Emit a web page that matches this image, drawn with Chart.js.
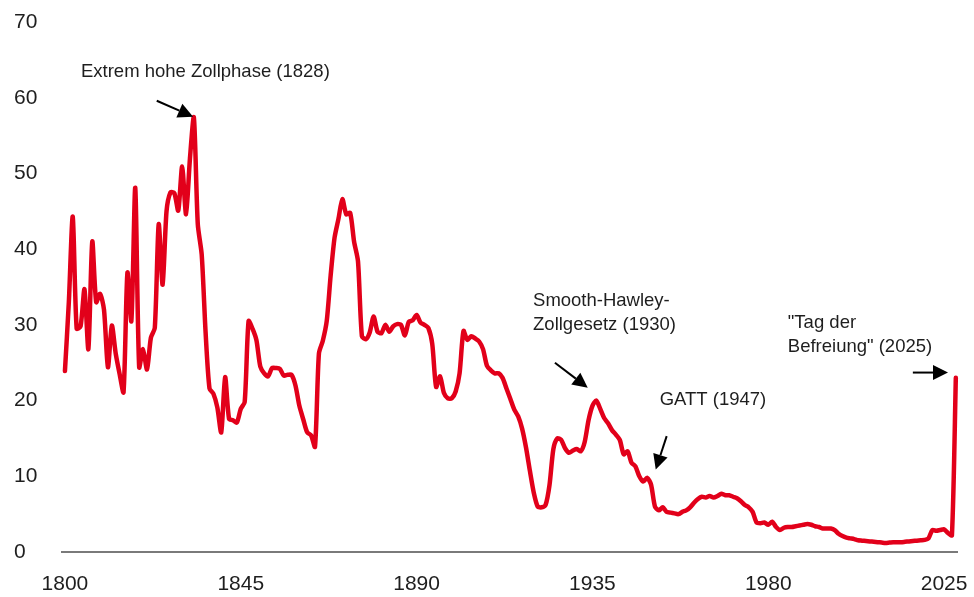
<!DOCTYPE html>
<html>
<head>
<meta charset="utf-8">
<script src="https://cdn.jsdelivr.net/npm/chart.js@4.4.1/dist/chart.umd.min.js"></script>
<style>
  html, body { margin: 0; padding: 0; background: #fff; }
  #wrap { width: 974px; height: 597px; }
</style>
</head>
<body>
<div id="wrap"><canvas id="chart"></canvas></div>
<script>
// Durchschnittlicher US-Zollsatz, Jahreswerte
const years = [
  1800, 1801, 1802, 1803, 1804, 1805, 1806, 1807, 1808, 1809,
  1810, 1811, 1812, 1813, 1814, 1815, 1816, 1817, 1818, 1819,
  1820, 1821, 1822, 1823, 1824, 1825, 1826, 1827, 1828, 1829,
  1830, 1831, 1832, 1833, 1834, 1835, 1836, 1837, 1838, 1839,
  1840, 1841, 1842, 1843, 1844, 1845, 1846, 1847, 1848, 1849,
  1850, 1851, 1852, 1853, 1854, 1855, 1856, 1857, 1858, 1859,
  1860, 1861, 1862, 1863, 1864, 1865, 1866, 1867, 1868, 1869,
  1870, 1871, 1872, 1873, 1874, 1875, 1876, 1877, 1878, 1879,
  1880, 1881, 1882, 1883, 1884, 1885, 1886, 1887, 1888, 1889,
  1890, 1891, 1892, 1893, 1894, 1895, 1896, 1897, 1898, 1899,
  1900, 1901, 1902, 1903, 1904, 1905, 1906, 1907, 1908, 1909,
  1910, 1911, 1912, 1913, 1914, 1915, 1916, 1917, 1918, 1919,
  1920, 1921, 1922, 1923, 1924, 1925, 1926, 1927, 1928, 1929,
  1930, 1931, 1932, 1933, 1934, 1935, 1936, 1937, 1938, 1939,
  1940, 1941, 1942, 1943, 1944, 1945, 1946, 1947, 1948, 1949,
  1950, 1951, 1952, 1953, 1954, 1955, 1956, 1957, 1958, 1959,
  1960, 1961, 1962, 1963, 1964, 1965, 1966, 1967, 1968, 1969,
  1970, 1971, 1972, 1973, 1974, 1975, 1976, 1977, 1978, 1979,
  1980, 1981, 1982, 1983, 1984, 1985, 1986, 1987, 1988, 1989,
  1990, 1991, 1992, 1993, 1994, 1995, 1996, 1997, 1998, 1999,
  2000, 2001, 2002, 2003, 2004, 2005, 2006, 2007, 2008, 2009,
  2010, 2011, 2012, 2013, 2014, 2015, 2016, 2017, 2018, 2019,
  2020, 2021, 2022, 2023, 2024, 2025, 2026, 2027, 2028
];

const tariffs = [
  23.9, 33.0, 44.3, 29.5, 29.8, 34.7, 26.8, 41.0, 33.0, 34.1,
  32.0, 24.4, 29.9, 26.2, 23.5, 21.1, 36.9, 30.5, 48.1, 24.4,
  26.8, 24.1, 28.3, 29.6, 43.3, 35.3, 45.0, 47.5, 47.4, 45.1,
  50.9, 44.6, 52.0, 57.4, 43.3, 39.3, 29.0, 21.6, 20.9, 19.1,
  15.8, 23.1, 17.6, 17.4, 17.1, 18.9, 19.8, 30.5, 29.5, 28.0,
  24.5, 23.6, 23.2, 24.3, 24.3, 24.2, 23.3, 23.4, 23.4, 22.0,
  19.3, 17.5, 15.8, 15.4, 13.9, 26.2, 27.9, 30.5, 36.5, 41.5,
  44.0, 46.6, 44.6, 44.8, 41.0, 38.4, 28.5, 28.1, 29.0, 31.1,
  29.1, 28.9, 30.0, 29.1, 29.8, 30.1, 30.0, 28.6, 30.4, 30.6,
  31.3, 30.3, 30.0, 29.6, 27.5, 21.8, 23.2, 21.0, 20.3, 20.3,
  21.2, 23.6, 29.2, 28.0, 28.5, 28.2, 27.8, 26.8, 24.6, 24.0,
  23.6, 23.6, 23.0, 21.6, 20.2, 18.8, 17.9, 16.3, 13.8, 10.7,
  7.8, 6.0, 5.9, 6.2, 8.8, 13.6, 15.0, 14.8, 13.7, 13.1,
  13.4, 13.6, 13.3, 14.5, 17.4, 19.3, 20.0, 18.9, 17.7, 17.0,
  16.1, 15.5, 14.8, 12.9, 13.3, 11.8, 11.3, 10.0, 9.3, 9.8,
  8.9, 6.0, 5.5, 5.9, 5.3, 5.2, 5.1, 5.0, 5.3, 5.5,
  5.9, 6.5, 7.0, 7.3, 7.2, 7.4, 7.2, 7.4, 7.7, 7.5,
  7.5, 7.3, 7.1, 6.7, 6.2, 5.9, 5.3, 3.9, 3.8, 3.9,
  3.6, 4.0, 3.3, 2.9, 3.2, 3.3, 3.3, 3.4, 3.5, 3.6,
  3.7, 3.6, 3.4, 3.3, 3.1, 3.1, 3.1, 2.9, 2.4, 2.1,
  1.9, 1.8, 1.7, 1.55, 1.5, 1.45, 1.4, 1.35, 1.3, 1.25,
  1.2, 1.25, 1.3, 1.3, 1.3, 1.35, 1.4, 1.45, 1.5, 1.55,
  1.6, 1.8, 2.9, 2.8, 2.9, 3.0, 2.5, 2.2, 23.0
];

const xTickYears = [1800, 1845, 1890, 1935, 1980, 2025];

// Beschriftungen mit Pfeilen (Position in Jahr / Prozent)
const notes = [
  { lines: ['Extrem hohe Zollphase (1828)'], at: [1804.1, 63.4], from: [1823.5, 59.6], to: [1832.8, 57.5] },
  { lines: ['Smooth-Hawley-', 'Zollgesetz (1930)'], at: [1919.8, 33.2], from: [1925.4, 25.0], to: [1933.8, 21.7] },
  { lines: ['GATT (1947)'], at: [1952.2, 20.1], from: [1954.0, 15.3], to: [1951.2, 10.9] },
  { lines: ['"Tag der', 'Befreiung" (2025)'], at: [1985.0, 30.3], from: [2017.0, 23.7], to: [2026.0, 23.7] }
];

const textColor = '#1e1e1e';
const fontFamily = '"Liberation Sans", Arial, sans-serif';

// Zeichnet Texte und Pfeile über die Skalen
const notesPlugin = {
  id: 'notes',
  afterDatasetsDraw(chart) {
    const ctx = chart.ctx;
    const xs = chart.scales.x, ys = chart.scales.y;
    ctx.save();
    ctx.fillStyle = textColor;
    ctx.strokeStyle = '#000';
    ctx.font = '18.5px ' + fontFamily;
    ctx.textAlign = 'left';
    ctx.textBaseline = 'middle';
    notes.forEach(n => {
      const tx = xs.getPixelForValue(n.at[0]);
      const ty = ys.getPixelForValue(n.at[1]);
      n.lines.forEach((l, i) => ctx.fillText(l, tx, ty + i * 24));

      const x1 = xs.getPixelForValue(n.from[0]), y1 = ys.getPixelForValue(n.from[1]);
      const x2 = xs.getPixelForValue(n.to[0]), y2 = ys.getPixelForValue(n.to[1]);
      const ang = Math.atan2(y2 - y1, x2 - x1);
      const head = 15, half = 7.5;
      const bx = x2 - head * Math.cos(ang), by = y2 - head * Math.sin(ang);
      ctx.lineWidth = 2;
      ctx.beginPath();
      ctx.moveTo(x1, y1);
      ctx.lineTo(bx, by);
      ctx.stroke();
      ctx.fillStyle = '#000';
      ctx.beginPath();
      ctx.moveTo(x2, y2);
      ctx.lineTo(bx + half * Math.sin(ang), by - half * Math.cos(ang));
      ctx.lineTo(bx - half * Math.sin(ang), by + half * Math.cos(ang));
      ctx.closePath();
      ctx.fill();
      ctx.fillStyle = textColor;
    });
    ctx.restore();
  }
};

const ctx = document.getElementById('chart').getContext('2d');
new Chart(ctx, {
  type: 'line',
  data: {
    datasets: [{
      data: years.map((y, i) => ({ x: y, y: tariffs[i] })),
      borderColor: '#e2001a',
      borderWidth: 4.5,
      pointRadius: 0,
      tension: 0.25,
      borderJoinStyle: 'round',
      borderCapStyle: 'round',
      clip: false
    }]
  },
  options: {
    responsive: true,
    maintainAspectRatio: false,
    animation: false,
    layout: { padding: { left: 14, right: 17, top: 22, bottom: 0 } },
    plugins: {
      legend: { display: false },
      tooltip: { enabled: false }
    },
    scales: {
      x: {
        type: 'linear',
        min: 1799.25,
        max: 2028.3,
        afterBuildTicks: scale => { scale.ticks = xTickYears.map(v => ({ value: v })); },
        afterFit: scale => {
          scale.height = 45;
          // Beschriftung 2025 liegt nicht am Achsenende: keine Zusatzränder
          scale.paddingLeft = 0;
          scale.paddingRight = 0;
        },
        grid: { display: false, drawTicks: false },
        border: { display: true, color: '#7a7a7a', width: 2 },
        ticks: {
          color: textColor,
          font: { family: fontFamily, size: 21 },
          padding: 20,
          maxRotation: 0,
          autoSkip: false,
          callback: v => String(v)
        }
      },
      y: {
        min: 0,
        max: 70,
        afterFit: scale => { scale.width = 48; },
        grid: { display: false, drawTicks: false },
        border: { display: false },
        ticks: {
          stepSize: 10,
          color: textColor,
          crossAlign: 'far',
          font: { family: fontFamily, size: 21 },
          padding: 0
        }
      }
    }
  },
  plugins: [notesPlugin]
});
</script>
</body>
</html>
